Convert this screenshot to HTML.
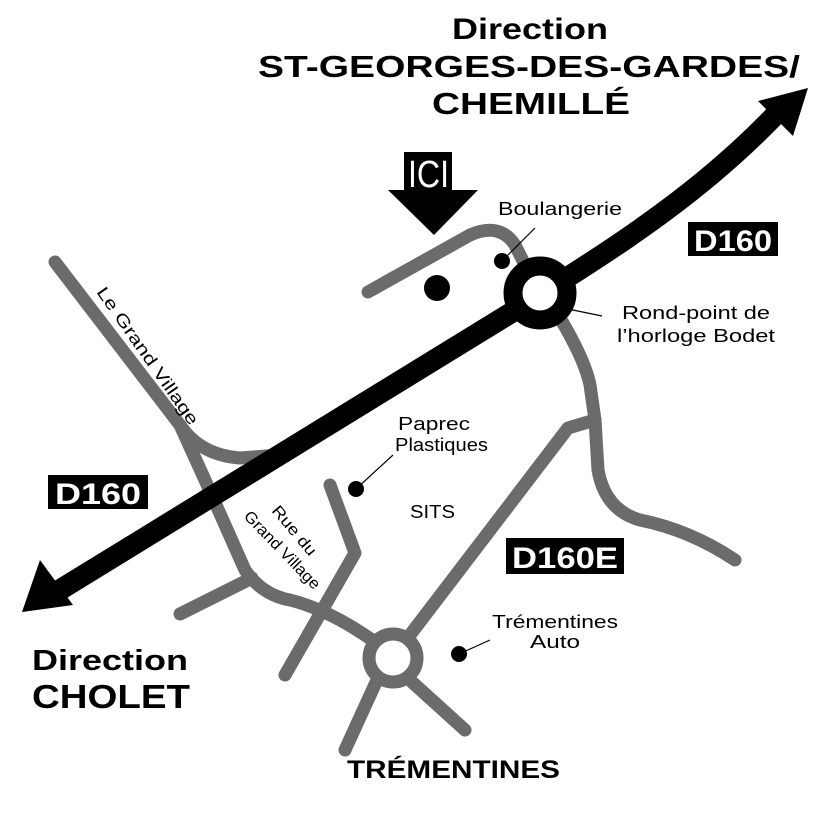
<!DOCTYPE html>
<html><head><meta charset="utf-8"><style>
html,body{margin:0;padding:0;background:#fff;}
svg{display:block;}
text{font-family:"Liberation Sans",sans-serif;}
</style></head><body>
<svg width="828" height="827" viewBox="0 0 828 827" xmlns="http://www.w3.org/2000/svg">
<g fill="none" stroke="#6b6b6b" stroke-width="13" stroke-linecap="round" stroke-linejoin="round">
<path d="M55,262 L180,425 Q200,455 240,458 L280,455"/>
<path d="M180,425 L205,480 L245,570 Q262,595 290,600 Q330,610 375,642"/>
<path d="M180,614 L252,578"/>
<path d="M330,485 L355,553 L285,675"/>
<path d="M377,680 L345,750"/>
<path d="M412,682 L465,730"/>
<path d="M410,635 L568,428 L595,420"/>
<path d="M560,318 Q585,360 590,385 L595,420 L598,470 Q605,510 640,520 Q690,530 735,560"/>
<path d="M368,292 L470,235 Q500,222 515,245 L525,265"/>
<circle cx="393" cy="658" r="24"/>
</g>
<g stroke="#000" stroke-width="21" fill="none">
<line x1="45" y1="599" x2="540" y2="295"/>
<path d="M540,295 C610,250 700,195 780,110"/>
<circle cx="540" cy="293" r="27" stroke-width="19" fill="#fff"/>
</g>
<polygon points="808,88 793,136 758,101" fill="#000"/>
<polygon points="22,612 40,560 73,605" fill="#000"/>
<g fill="#000">
<circle cx="437" cy="288" r="13"/>
<circle cx="502" cy="261" r="8"/>
<circle cx="356" cy="489" r="8"/>
<circle cx="459" cy="654" r="8"/>
<polygon points="404,152 452,152 452,190 478,190 434,235 388,190 404,190"/>
</g>
<g stroke="#000" stroke-width="1.2">
<line x1="502" y1="261" x2="535" y2="228"/>
<line x1="568" y1="309" x2="602" y2="316"/>
<line x1="356" y1="489" x2="393" y2="455"/>
<line x1="459" y1="654" x2="490" y2="640"/>
</g>
<text x="408" y="187" fill="#fff" font-size="38" textLength="41" lengthAdjust="spacingAndGlyphs">ICI</text>
<rect x="688" y="222" width="90" height="34" fill="#000"/>
<text x="694" y="251" fill="#fff" font-size="30" font-weight="bold" textLength="78" lengthAdjust="spacingAndGlyphs">D160</text>
<rect x="48" y="475" width="100" height="34" fill="#000"/>
<text x="55" y="504" fill="#fff" font-size="30" font-weight="bold" textLength="86" lengthAdjust="spacingAndGlyphs">D160</text>
<rect x="506" y="538" width="118" height="36" fill="#000"/>
<text x="512" y="568" fill="#fff" font-size="30" font-weight="bold" textLength="106" lengthAdjust="spacingAndGlyphs">D160E</text>
<g font-weight="bold" fill="#000">
<text x="452" y="39" font-size="30" textLength="156" lengthAdjust="spacingAndGlyphs">Direction</text>
<text x="258" y="77" font-size="31" textLength="542" lengthAdjust="spacingAndGlyphs">ST-GEORGES-DES-GARDES/</text>
<text x="432" y="114" font-size="31" textLength="198" lengthAdjust="spacingAndGlyphs">CHEMILLÉ</text>
<text x="347" y="778" font-size="25" textLength="213" lengthAdjust="spacingAndGlyphs">TRÉMENTINES</text>
<text x="32" y="670" font-size="29" textLength="156" lengthAdjust="spacingAndGlyphs">Direction</text>
<text x="32" y="708" font-size="33" textLength="158" lengthAdjust="spacingAndGlyphs">CHOLET</text>
</g>
<g font-size="18" fill="#000">
<text x="498" y="215" textLength="124" lengthAdjust="spacingAndGlyphs">Boulangerie</text>
<text x="622" y="319" textLength="148" lengthAdjust="spacingAndGlyphs">Rond-point de</text>
<text x="617" y="342" textLength="158" lengthAdjust="spacingAndGlyphs">l’horloge Bodet</text>
<text x="398" y="430" textLength="72" lengthAdjust="spacingAndGlyphs">Paprec</text>
<text x="395" y="451" textLength="93" lengthAdjust="spacingAndGlyphs">Plastiques</text>
<text x="410" y="518" textLength="45" lengthAdjust="spacingAndGlyphs">SITS</text>
<text x="492" y="628" textLength="126" lengthAdjust="spacingAndGlyphs">Trémentines</text>
<text x="530" y="648" textLength="50" lengthAdjust="spacingAndGlyphs">Auto</text>
</g>
<text font-size="17" fill="#000" transform="translate(96,292) rotate(55)" textLength="164" lengthAdjust="spacingAndGlyphs">Le Grand Village</text>
<text font-size="16" fill="#000" transform="translate(271,511) rotate(50)" textLength="60" lengthAdjust="spacingAndGlyphs">Rue du</text>
<text font-size="16" fill="#000" transform="translate(243,517) rotate(46)" textLength="102" lengthAdjust="spacingAndGlyphs">Grand Village</text>
</svg>
</body></html>
